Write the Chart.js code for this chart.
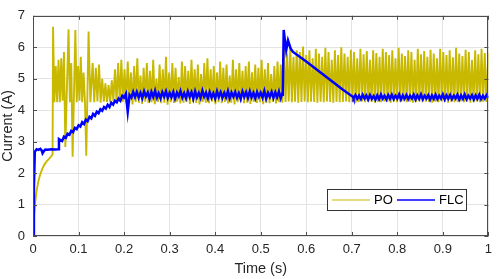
<!DOCTYPE html>
<html><head><meta charset="utf-8">
<script src="https://cdn.jsdelivr.net/npm/chart.js@4.4.0/dist/chart.umd.min.js"></script>
<style>html,body{margin:0;padding:0;background:#fff}#wrap{width:498px;height:279px;position:relative}</style>
</head><body><div id="wrap"><canvas id="c" width="498" height="279"></canvas></div>
<script>
// ---------- tick labels ----------
const X_TICKS = [0,0.1,0.2,0.3,0.4,0.5,0.6,0.7,0.8,0.9,1];
const X_TICK_LABELS = ['0','0.1','0.2','0.3','0.4','0.5','0.6','0.7','0.8','0.9','1'];
const Y_TICKS = [0,1,2,3,4,5,6,7];
const Y_TICK_LABELS = ['0','1','2','3','4','5','6','7'];
const SERIES_NAMES = ['PO','FLC'];
const X_TITLE = 'Time (s)';
const Y_TITLE = 'Current (A)';

// ---------- PO series ----------
// start-up part, [time, current]
const PO_START = [
 [0,0],[0.002,0.6],[0.005,1.1],[0.008,1.45],[0.012,1.75],[0.016,1.97],[0.02,2.12],[0.025,2.27],
 [0.03,2.37],[0.035,2.45],[0.041,2.55],[0.043,2.6],[0.044,6.65],[0.047,4.25],[0.05,5.4],
 [0.053,4.25],[0.056,5.6],[0.059,4.25],[0.062,5.65],[0.065,4.3],[0.068,5.85],[0.071,2.83],
 [0.078,6.57],[0.081,4.25],[0.084,5.5],[0.087,2.52],[0.093,6.55],[0.096,4.25],[0.099,5.4],
 [0.102,4.3],[0.105,5.7],[0.108,4.25],[0.111,5.2],[0.114,4.3],[0.117,2.55],[0.122,6.5],
 [0.126,4.25]
];
// switching ripple: one peak and one trough per cycle
const PO_CYCLE_START = 0.131;   // s
const PO_CYCLE_PERIOD = 0.007;  // s
const PO_PEAKS = [
 5.5,5.35,5.45,5.0,4.85,4.8,4.95,5.3,5.5,5.6,
 5.3,5.55,5.2,5.4,5.65,5.1,5.35,5.5,5.25,5.6,
 5.0,5.45,5.3,5.7,5.2,5.5,5.35,5.05,5.55,5.4,
 5.25,5.6,5.3,5.45,5.15,5.5,5.65,5.3,5.4,5.2,
 5.55,5.35,5.45,5.1,5.6,5.3,5.5,5.25,5.4,5.55,
 5.2,5.45,5.35,5.6,5.3,5.5,5.15,5.4,5.55,5.45,
 5.95,5.8,6.0,5.7,5.9,5.85,6.02,5.75,5.9,5.65,
 5.95,5.8,5.7,5.98,5.85,5.6,5.9,5.75,6.0,5.8,
 5.7,5.92,5.85,5.65,5.95,5.78,5.88,5.6,5.9,5.82,
 5.7,5.95,5.85,5.75,5.9,5.65,5.98,5.8,5.72,5.9,
 5.85,5.6,5.95,5.78,5.88,5.7,5.92,5.8,5.65,5.95,
 5.85,5.75,5.9,5.68,5.98,5.8,5.72,5.92,5.85,5.6,
 5.9,5.78,5.95,5.82
];
const PO_TROUGHS = [
 4.25,4.28,4.24,4.27,4.26,4.25,4.29,4.24,4.26,4.27,
 4.22,4.25,4.18,4.26,4.24,4.20,4.27,4.23,4.25,4.19,
 4.26,4.22,4.24,4.17,4.25,4.23,4.27,4.21,4.24,4.26,
 4.20,4.25,4.23,4.18,4.26,4.24,4.22,4.27,4.19,4.25,
 4.23,4.26,4.21,4.24,4.18,4.25,4.27,4.22,4.24,4.20,
 4.26,4.23,4.25,4.19,4.24,4.22,4.26,4.21,4.25,4.24,
 4.26,4.28,4.25,4.27,4.24,4.26,4.28,4.25,4.27,4.26,
 4.24,4.27,4.25,4.28,4.26,4.24,4.27,4.25,4.26,4.28,
 4.25,4.27,4.24,4.26,4.28,4.25,4.27,4.26,4.24,4.27,
 4.25,4.28,4.26,4.24,4.27,4.25,4.26,4.28,4.25,4.27,
 4.24,4.26,4.28,4.25,4.27,4.26,4.24,4.27,4.25,4.28,
 4.26,4.24,4.27,4.25,4.26,4.28,4.25,4.27,4.24,4.26,
 4.28,4.25,4.27,4.26
];

// ---------- FLC series ----------
const FLC_START = [
 [0,0],[0.002,1.5],[0.004,2.68],[0.008,2.76],[0.012,2.74],[0.016,2.77],[0.019,2.72],
 [0.021,2.63],[0.024,2.7],[0.027,2.75],[0.032,2.74],[0.04,2.76],[0.048,2.75],[0.056,2.76],
 [0.057,3.08]
];
const FLC_SAMPLE = 0.004; // s
const FLC_RISE_START = 0.06;
const FLC_RISE = [
 3.05,3.02,3.16,3.12,3.25,3.22,3.34,3.30,3.44,3.40,
 3.52,3.48,3.62,3.56,3.70,3.65,3.79,3.74,3.88,3.82,
 3.95,3.90,4.03,3.98,4.10,4.05,4.17,4.10,4.24,4.18,
 4.30,4.25,4.37,4.30,4.46,4.40,4.52,3.95,4.48,4.40,
 4.58
];
const FLC_FLAT1_START = 0.224;
const FLC_FLAT1 = [
 4.42,4.58,4.40,4.55,4.38,4.60,4.44,4.56,4.36,4.58,
 4.42,4.62,4.40,4.54,4.38,4.57,4.43,4.60,4.39,4.55,
 4.41,4.58,4.37,4.56,4.44,4.61,4.40,4.54,4.38,4.59,
 4.42,4.57,4.36,4.60,4.41,4.55,4.39,4.62,4.43,4.56,
 4.38,4.58,4.40,4.54,4.37,4.60,4.42,4.57,4.39,4.55,
 4.41,4.61,4.38,4.56,4.43,4.58,4.40,4.54,4.36,4.59,
 4.42,4.57,4.39,4.60,4.41,4.55,4.38,4.58,4.43,4.56,
 4.40,4.61,4.37,4.55,4.42,4.58,4.39,4.57,4.41,4.60,
 4.38,4.56
];
const FLC_TRANSIENT = [
 [0.5485,4.45],[0.5505,6.55],[0.556,5.9],[0.560,6.22],[0.566,5.95],[0.571,5.85],
 [0.60,5.55],[0.64,5.1],[0.68,4.66],[0.703,4.42]
];
const FLC_FLAT2_START = 0.704;
const FLC_FLAT2 = [
 4.38,4.48,4.36,4.46,4.35,4.49,4.37,4.47,4.34,4.48,
 4.36,4.45,4.33,4.47,4.35,4.50,4.37,4.46,4.34,4.48,
 4.36,4.49,4.35,4.46,4.37,4.50,4.34,4.47,4.36,4.48,
 4.35,4.46,4.37,4.49,4.34,4.47,4.36,4.50,4.35,4.46,
 4.37,4.48,4.34,4.47,4.36,4.49,4.35,4.46,4.37,4.50,
 4.34,4.47,4.36,4.48,4.35,4.46,4.37,4.49,4.34,4.47,
 4.36,4.50,4.35,4.46,4.37,4.48,4.34,4.47,4.36,4.49,
 4.35,4.46,4.37,4.48,4.38
];

// ---------- build point lists for the library ----------
function buildPO(){
  const pts = PO_START.map(p=>({x:p[0],y:p[1]}));
  for(let k=0;k<PO_PEAKS.length;k++){
    const t = PO_CYCLE_START + k*PO_CYCLE_PERIOD;
    pts.push({x:t,y:PO_PEAKS[k]});
    pts.push({x:t+PO_CYCLE_PERIOD/2,y:PO_TROUGHS[k]});
  }
  pts.push({x:1,y:PO_PEAKS[PO_PEAKS.length-1]});
  return pts;
}
function sampled(start, vals){ return vals.map((v,i)=>({x:start+i*FLC_SAMPLE,y:v})); }
function buildFLC(){
  return [].concat(
    FLC_START.map(p=>({x:p[0],y:p[1]})),
    sampled(FLC_RISE_START, FLC_RISE),
    sampled(FLC_FLAT1_START, FLC_FLAT1),
    FLC_TRANSIENT.map(p=>({x:p[0],y:p[1]})),
    sampled(FLC_FLAT2_START, FLC_FLAT2)
  );
}

const PO_COLOR = '#c8b900';
const FLC_COLOR = '#0000ff';
const AX_COLOR = '#262626';
const FONT = '"Liberation Sans", Arial, Helvetica, sans-serif';

const decor = {
  id:'decor',
  afterDraw(chart){
    const ctx = chart.ctx, a = chart.chartArea;
    const xs = chart.scales.x, ys = chart.scales.y;
    ctx.save();
    // box
    ctx.strokeStyle = '#4d4d4d'; ctx.lineWidth = 1;
    ctx.strokeRect(Math.round(a.left)+0.5, Math.round(a.top)+0.5, Math.round(a.right-a.left)-1, Math.round(a.bottom-a.top)-1);
    // inward ticks
    const TL = 4;
    ctx.beginPath();
    X_TICKS.forEach(v=>{
      const px = Math.round(xs.getPixelForValue(v))+0.5;
      ctx.moveTo(px,a.bottom); ctx.lineTo(px,a.bottom-TL);
      ctx.moveTo(px,a.top); ctx.lineTo(px,a.top+TL);
    });
    Y_TICKS.forEach(v=>{
      const py = Math.round(ys.getPixelForValue(v))+0.5;
      ctx.moveTo(a.left,py); ctx.lineTo(a.left+TL,py);
      ctx.moveTo(a.right,py); ctx.lineTo(a.right-TL,py);
    });
    ctx.stroke();
    // axis titles
    ctx.fillStyle = AX_COLOR;
    ctx.font = '14.5px '+FONT;
    ctx.textAlign = 'center'; ctx.textBaseline = 'middle';
    ctx.fillText(X_TITLE, (a.left+a.right)/2, 268.5);
    ctx.save();
    ctx.translate(8, (a.top+a.bottom)/2);
    ctx.rotate(-Math.PI/2);
    ctx.fillText(Y_TITLE, 0, 0);
    ctx.restore();
    // legend
    const lx = 327.5, ly = 189.5, lw = 139, lh = 21;
    ctx.fillStyle = '#ffffff'; ctx.fillRect(lx,ly,lw,lh);
    ctx.strokeStyle = '#333333'; ctx.lineWidth = 1; ctx.strokeRect(lx,ly,lw,lh);
    const cy = 200;
    ctx.lineWidth = 1.2; ctx.strokeStyle = PO_COLOR;
    ctx.beginPath(); ctx.moveTo(332,cy); ctx.lineTo(370,cy); ctx.stroke();
    ctx.lineWidth = 1.5; ctx.strokeStyle = FLC_COLOR;
    ctx.beginPath(); ctx.moveTo(397,cy); ctx.lineTo(435,cy); ctx.stroke();
    ctx.fillStyle = '#000'; ctx.font = '13px '+FONT; ctx.textAlign='left';
    ctx.fillText(SERIES_NAMES[0], 374, cy+0.5);
    ctx.fillText(SERIES_NAMES[1], 439, cy+0.5);
    ctx.restore();
  }
};

new Chart(document.getElementById('c'), {
  type:'line',
  data:{datasets:[
    {label:SERIES_NAMES[0], data:buildPO(), borderColor:PO_COLOR, borderWidth:1.9, pointRadius:0, tension:0, order:2, fill:false},
    {label:SERIES_NAMES[1], data:buildFLC(), borderColor:FLC_COLOR, borderWidth:2.5, pointRadius:0, tension:0, order:1, fill:false}
  ]},
  options:{
    responsive:false, animation:false, devicePixelRatio:1,
    layout:{padding:{left:0,right:3,top:5,bottom:0}},
    plugins:{legend:{display:false}, tooltip:{enabled:false}},
    scales:{
      x:{type:'linear', min:0, max:1,
        afterBuildTicks:s=>{s.ticks = X_TICKS.map(v=>({value:v}));},
        afterFit:s=>{s.height = 43;},
        ticks:{callback:(v,i)=>X_TICK_LABELS[i], color:AX_COLOR, font:{size:13, family:FONT}, padding:6, maxRotation:0, autoSkip:false},
        grid:{color:'#e3e3e3', drawTicks:false}, border:{display:false}},
      y:{type:'linear', min:0, max:7,
        afterBuildTicks:s=>{s.ticks = Y_TICKS.map(v=>({value:v}));},
        afterFit:s=>{s.width = 33;},
        ticks:{callback:(v,i)=>Y_TICK_LABELS[i], color:AX_COLOR, font:{size:13, family:FONT}, padding:8, autoSkip:false},
        grid:{color:'#e3e3e3', drawTicks:false}, border:{display:false}}
    }
  },
  plugins:[decor]
});
</script>
</body></html>
